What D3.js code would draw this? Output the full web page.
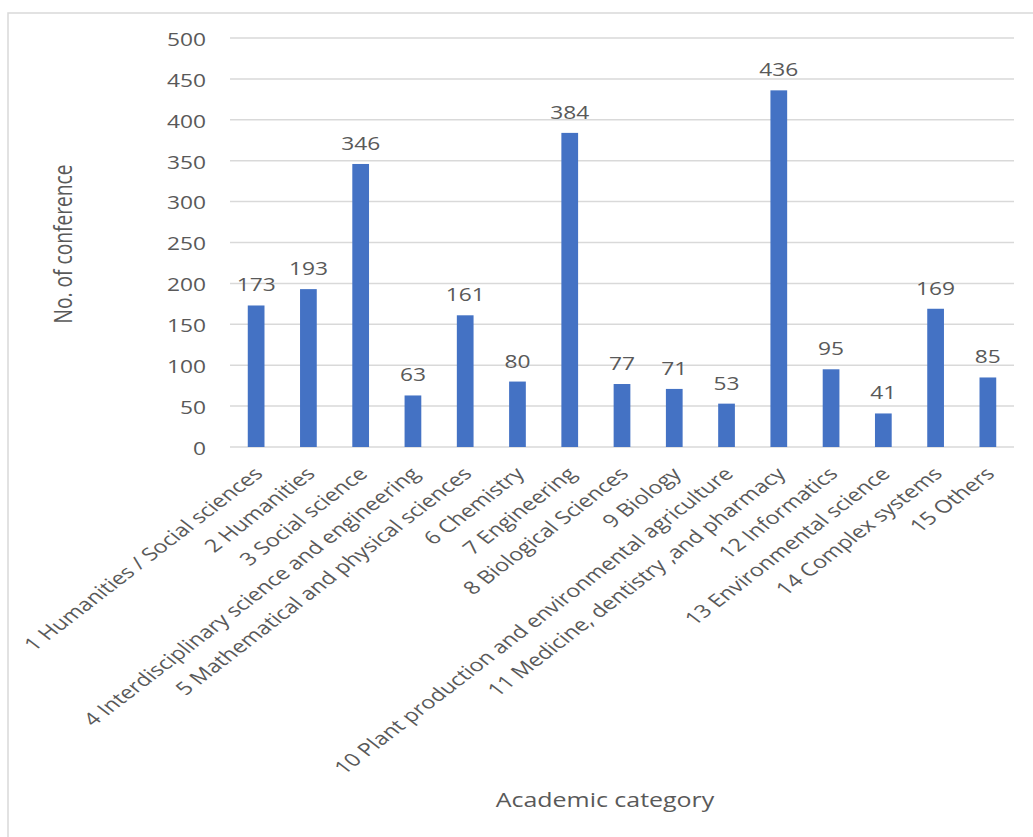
<!DOCTYPE html>
<html>
<head>
<meta charset="utf-8">
<script src="https://cdn.jsdelivr.net/npm/d3@7"></script>
<style>
  html, body { margin: 0; padding: 0; background: #fff; }
  svg { display: block; }
  text { font-family: "Open Sans", Lato, sans-serif; fill: #595959; }
</style>
</head>
<body>
<svg id="chart" width="1033" height="837"></svg>
<script>
// Conferences per academic category
const categories = [
  "1 Humanities / Social sciences",
  "2 Humanities",
  "3 Social science",
  "4 Interdisciplinary science and engineering",
  "5 Mathematical and physical sciences",
  "6 Chemistry",
  "7 Engineering",
  "8 Biological Sciences",
  "9 Biology",
  "10 Plant production and environmental agriculture",
  "11 Medicine, dentistry ,and pharmacy",
  "12 Informatics",
  "13 Environmental science",
  "14 Complex systems",
  "15 Others"
];
const conferences = [173, 193, 346, 63, 161, 80, 384, 77, 71, 53, 436, 95, 41, 169, 85];
const yTicks = [0, 50, 100, 150, 200, 250, 300, 350, 400, 450, 500];
const xTitle = "Academic category";
const yTitle = "No. of conference";

// Text is drawn with a horizontal widening
const stretch = 1.3;
const numberSize = 17.5;
const categorySize = 18;
const titleSize = 19.2;

const svg = d3.select("#chart");

// outer frame
svg.append("rect")
  .attr("x", 8).attr("y", 13)
  .attr("width", 1040).attr("height", 840)
  .attr("fill", "#fff")
  .attr("stroke", "#d9d9d9").attr("stroke-width", 1.5);

const plot = { left: 230, right: 1014, top: 38, bottom: 447 };

const x = d3.scaleBand()
  .domain(categories)
  .range([plot.left, plot.right])
  .paddingInner(0.68)
  .paddingOuter(0.34);

const y = d3.scaleLinear()
  .domain([0, 500])
  .range([plot.bottom, plot.top]);

function place(sel, px, py, rot) {
  sel.attr("x", 0).attr("y", 0)
    .attr("transform", `translate(${px},${py}) scale(${stretch},1) rotate(${rot || 0})`);
}

// gridlines
svg.append("g")
  .selectAll("line")
  .data(yTicks)
  .join("line")
  .attr("x1", plot.left).attr("x2", plot.right)
  .attr("y1", d => y(d)).attr("y2", d => y(d))
  .attr("stroke", "#d9d9d9").attr("stroke-width", 1.5);

// y tick labels
svg.append("g")
  .selectAll("text")
  .data(yTicks)
  .join("text")
  .attr("text-anchor", "end")
  .attr("dominant-baseline", "central")
  .attr("font-size", numberSize)
  .text(d => d)
  .each(function(d) { place(d3.select(this), 206, y(d) + 1); });

// bars
svg.append("g")
  .selectAll("rect")
  .data(conferences)
  .join("rect")
  .attr("x", (d, i) => x(categories[i]))
  .attr("width", x.bandwidth())
  .attr("y", d => y(d))
  .attr("height", d => y(0) - y(d))
  .attr("fill", "#4472c4");

// value labels
svg.append("g")
  .selectAll("text")
  .data(conferences)
  .join("text")
  .attr("text-anchor", "middle")
  .attr("font-size", numberSize)
  .text(d => d)
  .each(function(d, i) {
    place(d3.select(this), x(categories[i]) + x.bandwidth() / 2, y(d) - 14);
  });

// category labels
svg.append("g")
  .selectAll("text")
  .data(categories)
  .join("text")
  .attr("text-anchor", "end")
  .attr("font-size", categorySize)
  .text(d => d)
  .each(function(d) {
    place(d3.select(this), x(d) + x.bandwidth() / 2 + 8, y(0) + 28, -45);
  });

// axis titles
svg.append("text")
  .attr("text-anchor", "middle")
  .attr("font-size", titleSize)
  .text(xTitle)
  .call(s => place(s, 605, 807));

svg.append("text")
  .attr("text-anchor", "middle")
  .attr("font-size", titleSize)
  .text(yTitle)
  .call(s => place(s, 72, 244, -90));
</script>
</body>
</html>
